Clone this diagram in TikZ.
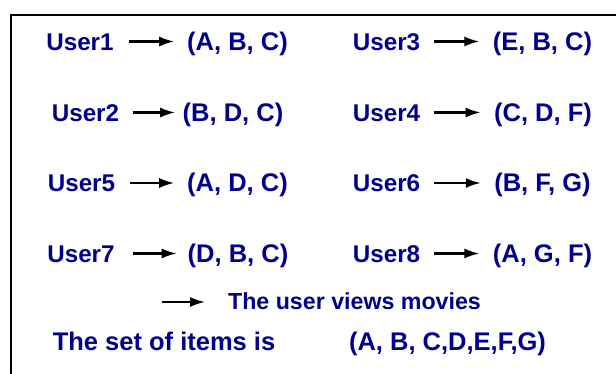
\documentclass[tikz,border=0pt]{standalone}
\usepackage{fontspec}
\setmainfont{Liberation Sans}
\usetikzlibrary{arrows.meta}
\definecolor{navy}{RGB}{0,0,140}
\begin{document}
\begin{tikzpicture}[x=1pt,y=-1pt,
  lbl/.style={text=navy,font=\fontsize{25.5}{30}\selectfont\bfseries,inner sep=0pt,outer sep=0pt,anchor=base,text height=18pt,text depth=0pt},
  usr/.style={lbl,font=\fontsize{24.2}{29}\selectfont\bfseries},
  leglbl/.style={lbl,font=\fontsize{23.2}{28}\selectfont\bfseries,text height=17pt},
  arr/.style={draw=black,line width=2.2pt,-{Latex[length=15pt,width=10pt]},shorten <=15pt,shorten >=13pt},
  frameline/.style={draw=black,line width=2pt}]
\useasboundingbox (0,0) rectangle (616,374);
\clip (0,0) rectangle (616,374);
% frame
\coordinate (fbl) at (11,380);
\coordinate (ftl) at (11,15);
\coordinate (ftr) at (625,15);
\draw[frameline] (fbl) -- (ftl) -- (ftr);
% left column
\node[usr] (u1) at (80,50.5) {User1};
\node[lbl] (t1) at (237.5,50.5) {(A, B, C)};
\node[usr] (u2) at (85.5,121.5) {User2};
\node[lbl] (t2) at (233,121.5) {(B, D, C)};
\node[usr] (u5) at (81.5,192) {User5};
\node[lbl] (t5) at (237.5,192) {(A, D, C)};
\node[usr] (u7) at (81,262.5) {User7};
\node[lbl] (t7) at (238,262.5) {(D, B, C)};
% right column
\node[usr] (u3) at (386.5,50.5) {User3};
\node[lbl] (t3) at (542.5,50.5) {(E, B, C)};
\node[usr] (u4) at (386.5,121.5) {User4};
\node[lbl] (t4) at (543,121.5) {(C, D, F)};
\node[usr] (u6) at (386.5,192) {User6};
\node[lbl] (t6) at (542.5,192) {(B, F, G)};
\node[usr] (u8) at (386.5,262.5) {User8};
\node[lbl] (t8) at (542.5,262.5) {(A, G, F)};
% arrows
\draw[arr] (u1) -- (t1);
\draw[arr,shorten <=14pt,shorten >=7.5pt] (u2) -- (t2);
\draw[arr] (u5) -- (t5);
\draw[arr,shorten <=18pt,shorten >=11pt] (u7) -- (t7);
\draw[arr,shorten <=14pt,shorten >=13.5pt] (u3) -- (t3);
\draw[arr,shorten <=14pt,shorten >=13.5pt] (u4) -- (t4);
\draw[arr,shorten <=14pt,shorten >=13.5pt] (u6) -- (t6);
\draw[arr,shorten <=14pt,shorten >=13.5pt] (u8) -- (t8);
% legend
\node[leglbl] (leg) at (354.5,309.5) {The user views movies};
\coordinate (la) at (162,302);
\draw[arr,shorten <=0pt,shorten >=23pt] (la) -- (la -| leg.west);
% item set
\node[lbl] (setl) at (164,350) {The set of items is};
\node[lbl] (setr) at (447.5,350) {(A, B, C,D,E,F,G)};
\end{tikzpicture}
\end{document}
